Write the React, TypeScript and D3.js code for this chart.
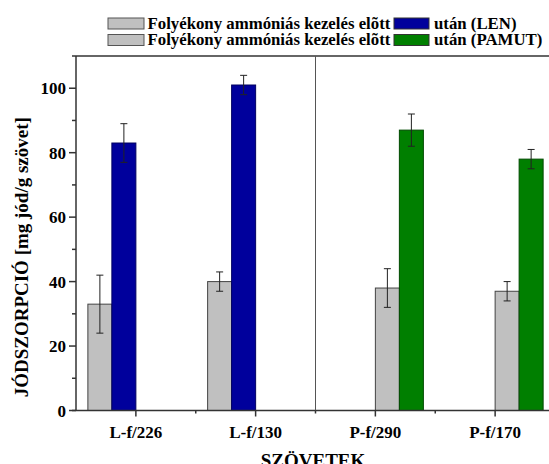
import React from "react";
import * as d3 from "d3";

const categories = ["L-f/226", "L-f/130", "P-f/290", "P-f/170"];
const fabricGroup = ["LEN", "LEN", "PAMUT", "PAMUT"];
const beforeValues = [33, 40, 38, 37];
const beforeErr = [9, 3, 6, 3];
const afterValues = [83, 101, 87, 78];
const afterErr = [6, 3, 5, 3];
const yTicks = [0, 20, 40, 60, 80, 100];
const yMinorTicks = [10, 30, 50, 70, 90, 110];
const legendRows = [
  { before: "Folyékony ammóniás kezelés elõtt", after: "után (LEN)", color: "#00009c" },
  { before: "Folyékony ammóniás kezelés elõtt", after: "után (PAMUT)", color: "#007f00" },
];

const W = 549;
const H = 464;
const FONT = "Liberation Serif, Times New Roman, DejaVu Serif, serif";
const GRAY = "#c0c0c0";
const BLUE = "#00009c";
const GREEN = "#007f00";
const AXIS = "#333";

export default function App() {
  const x = d3.scaleBand<string>().domain(categories).range([76, 555]).padding(0);
  const y = d3.scaleLinear().domain([0, 110]).range([410.5, 56]);
  const sub = d3.scaleBand<string>().domain(["s1", "s2", "s3", "s4"]).range([-48, 48]).padding(0);
  const bw = sub.bandwidth();
  const left = 76;
  const right = 555;
  const bottom = y(0);
  const top = y(110);
  const boundaries = categories.map((c) => x(c) as number).concat([right]);
  const center = (c: string) => (x(c) as number) + x.bandwidth() / 2;

  const bars: any[] = [];
  categories.forEach((c, i) => {
    const isLen = fabricGroup[i] === "LEN";
    const cx = center(c);
    bars.push({
      x: cx + (sub(isLen ? "s1" : "s3") as number),
      v: beforeValues[i],
      e: beforeErr[i],
      fill: GRAY,
      stroke: "#444",
    });
    bars.push({
      x: cx + (sub(isLen ? "s2" : "s4") as number),
      v: afterValues[i],
      e: afterErr[i],
      fill: isLen ? BLUE : GREEN,
      stroke: isLen ? "#000060" : "#004a00",
    });
  });

  const tStyle = { fontFamily: FONT, fontWeight: "bold" as const };

  return (
    <svg width={W} height={H} style={{ position: "absolute", left: 0, top: 0, fontFamily: FONT }}>
      <rect width={W} height={H} fill="#fff" />
      {/* legend */}
      {legendRows.map((r, i) => {
        const yy = 18 + i * 16.5;
        return (
          <g key={i} fill="#000">
            <rect x={108} y={yy} width={36} height={11} fill={GRAY} stroke="#555" strokeWidth={1} />
            <text x={147.5} y={yy + 10.5} style={{ ...tStyle, fontSize: 16.8 }}>{r.before}</text>
            <rect x={394} y={yy} width={35} height={11} fill={r.color} stroke="#333" strokeWidth={1} />
            <text x={434} y={yy + 10.5} style={{ ...tStyle, fontSize: 16.8 }}>{r.after}</text>
          </g>
        );
      })}
      {/* bars */}
      {bars.map((b, i) => (
        <g key={i}>
          <rect x={b.x} y={y(b.v)} width={bw} height={bottom - y(b.v)} fill={b.fill} stroke={b.stroke} strokeWidth={1} />
          <line x1={b.x + bw / 2} x2={b.x + bw / 2} y1={y(b.v + b.e)} y2={y(b.v - b.e)} stroke="#222" strokeWidth={1} />
          <line x1={b.x + bw / 2 - 3.5} x2={b.x + bw / 2 + 3.5} y1={y(b.v + b.e)} y2={y(b.v + b.e)} stroke="#222" strokeWidth={1} />
          <line x1={b.x + bw / 2 - 3.5} x2={b.x + bw / 2 + 3.5} y1={y(b.v - b.e)} y2={y(b.v - b.e)} stroke="#222" strokeWidth={1} />
        </g>
      ))}
      {/* frame */}
      <line x1={left} x2={right} y1={top} y2={top} stroke={AXIS} strokeWidth={1.5} />
      <line x1={left} x2={left} y1={top} y2={bottom} stroke={AXIS} strokeWidth={1.5} />
      <line x1={left - 4} x2={right} y1={bottom} y2={bottom} stroke={AXIS} strokeWidth={1.5} />
      <line x1={x("P-f/290") as number} x2={x("P-f/290") as number} y1={top} y2={bottom} stroke="#555" strokeWidth={1} />
      {/* y ticks */}
      {yTicks.map((t) => (
        <g key={t}>
          <line x1={left - 7} x2={left} y1={y(t)} y2={y(t)} stroke={AXIS} strokeWidth={1.5} />
          <text x={left - 10} y={y(t) + 6} textAnchor="end" style={{ ...tStyle, fontSize: 17 }}>{t}</text>
        </g>
      ))}
      {yMinorTicks.map((t) => (
        <line key={t} x1={left - 4} x2={left} y1={y(t)} y2={y(t)} stroke={AXIS} strokeWidth={1.5} />
      ))}
      {/* x ticks */}
      {categories.map((c) => (
        <g key={c}>
          <line x1={center(c)} x2={center(c)} y1={bottom} y2={bottom + 6} stroke={AXIS} strokeWidth={1.5} />
          <text x={center(c)} y={bottom + 27} textAnchor="middle" style={{ ...tStyle, fontSize: 17 }}>{c}</text>
        </g>
      ))}
      {boundaries.slice(1, 4).map((b, i) => (
        <line key={i} x1={b} x2={b} y1={bottom} y2={bottom + 3} stroke={AXIS} strokeWidth={1.5} />
      ))}
      {/* axis titles */}
      <text x={313} y={bottom + 56} textAnchor="middle" style={{ ...tStyle, fontSize: 19 }}>SZÖVETEK</text>
      <text transform={`translate(28, ${(top + bottom) / 2 + 24}) rotate(-90)`} textAnchor="middle" style={{ ...tStyle, fontSize: 19 }}>
        JÓDSZORPCIÓ [mg jód/g szövet]
      </text>
    </svg>
  );
}
